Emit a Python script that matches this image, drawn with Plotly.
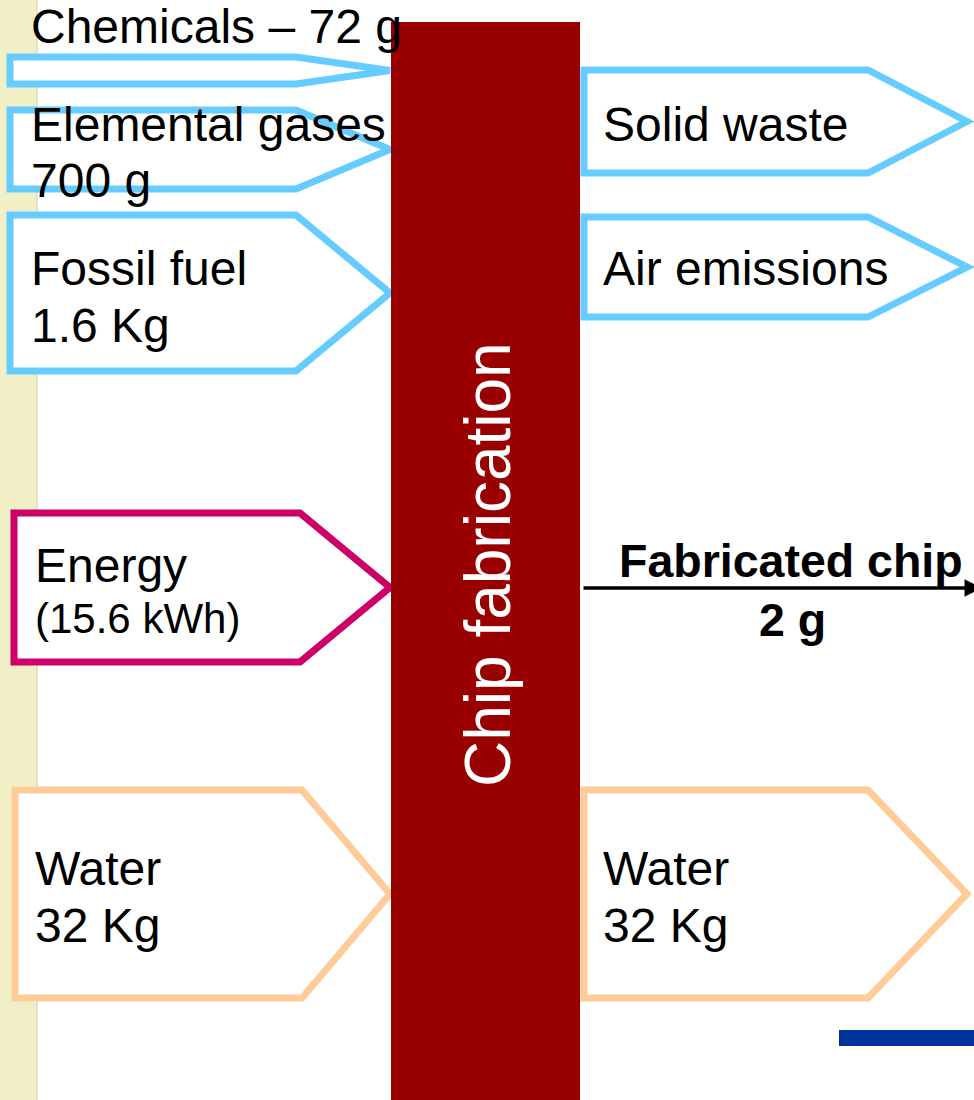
import plotly.graph_objects as go

# Inputs to chip fabrication (left side) and outputs (right side)
input_names = ["Chemicals \u2013 72 g", "Elemental gases", "Fossil fuel", "Energy", "Water"]
input_amounts = ["", "700 g", "1.6 Kg", "(15.6 kWh)", "32 Kg"]
input_colors = ["#66CCFF", "#66CCFF", "#66CCFF", "#CC0066", "#FFCC99"]

output_names = ["Solid waste", "Air emissions", "Water"]
output_amounts = ["", "", "32 Kg"]
output_colors = ["#66CCFF", "#66CCFF", "#FFCC99"]

product_name = "Fabricated chip"
product_amount = "2 g"
process_name = "Chip fabrication"

# arrow boxes in pixel space: (left, body end, tip, top, bottom)
input_boxes = [
    (10, 296, 390, 57, 84),
    (10, 296, 390, 110, 189),
    (10, 296, 390, 215, 371),
    (14, 300, 390, 513, 662),
    (15, 302, 390, 790, 998),
]
output_boxes = [
    (584, 868, 967, 70, 173),
    (584, 868, 967, 217, 317),
    (584, 868, 967, 790, 998),
]

W, H = 974, 1100
FONT = "Liberation Sans, Arial, sans-serif"

fig = go.Figure()
shapes = []
annotations = []

# beige strip on the left
shapes.append(dict(type="rect", x0=-2, x1=37, y0=-2, y1=H + 2, fillcolor="#F1EFC5",
                   line=dict(color="#D2D0AA", width=1), layer="below"))


def arrow_path(x0, xb, xt, y0, y1):
    ym = (y0 + y1) / 2
    return f"M {x0},{y0} L {xb},{y0} L {xt},{ym} L {xb},{y1} L {x0},{y1} Z"


for box, color in zip(input_boxes + output_boxes, input_colors + output_colors):
    shapes.append(dict(type="path", path=arrow_path(*box), fillcolor="white",
                       line=dict(color=color, width=7)))

# process bar
shapes.append(dict(type="rect", x0=391, x1=580, y0=22, y1=H + 2, fillcolor="#990000",
                   line=dict(width=0)))

# blue accent bar bottom right
shapes.append(dict(type="rect", x0=839, x1=980, y0=1030, y1=1046, fillcolor="#003399",
                   line=dict(width=0)))


def label(text, x, y, size=48, bold=False, color="black", xanchor="left"):
    if bold:
        text = f"<b>{text}</b>"
    annotations.append(dict(text=text, x=x, y=y, xref="x", yref="y", showarrow=False,
                            xanchor=xanchor, yanchor="middle",
                            font=dict(family=FONT, size=size, color=color)))


# input labels
name_y = [26, 124, 268, 565, 868]
amount_y = [None, 180, 325, 618, 925]
text_x = [29, 29, 29, 33, 33]
for i, name in enumerate(input_names):
    label(name, text_x[i], name_y[i])
    if input_amounts[i]:
        size = 42 if i == 3 else 48
        label(input_amounts[i], text_x[i], amount_y[i], size=size)

# output labels
out_name_y = [124, 268, 868]
out_amount_y = [None, None, 925]
for i, name in enumerate(output_names):
    label(name, 601, out_name_y[i])
    if output_amounts[i]:
        label(output_amounts[i], 601, out_amount_y[i])

# product arrow
annotations.append(dict(x=982, y=588, ax=582, ay=588, xref="x", yref="y",
                        axref="x", ayref="y", text="", showarrow=True,
                        arrowhead=2, arrowsize=1, arrowwidth=3.5, arrowcolor="black"))
label(product_name, 791, 561, size=46.5, bold=True, xanchor="center")
label(product_amount, 792, 620, size=46.5, bold=True, xanchor="center")

# process label, rotated
annotations.append(dict(text=process_name, x=488, y=565, xref="x", yref="y",
                        showarrow=False, textangle=-90,
                        font=dict(family=FONT, size=64, color="white")))

fig.update_layout(
    width=W, height=H,
    margin=dict(l=0, r=0, t=0, b=0),
    paper_bgcolor="white", plot_bgcolor="white",
    xaxis=dict(range=[0, W], visible=False, fixedrange=True),
    yaxis=dict(range=[H, 0], visible=False, fixedrange=True),
    shapes=shapes, annotations=annotations,
    showlegend=False,
)

fig.write_html("out.html", config={"displayModeBar": False},
               post_script="document.body.style.margin='0px';")
